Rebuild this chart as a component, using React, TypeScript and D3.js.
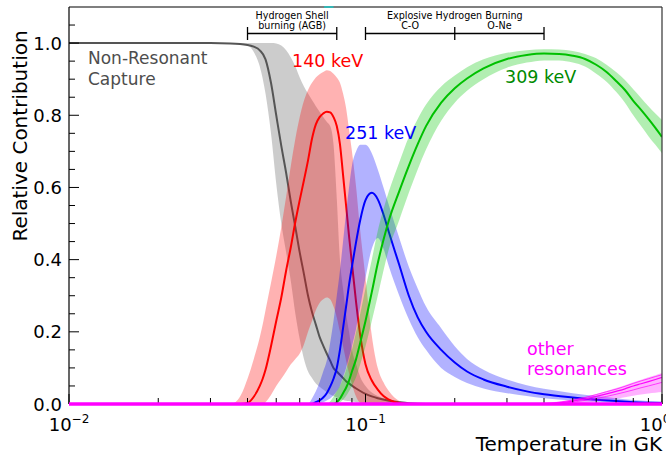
import React from 'react';
import * as d3 from 'd3';

// ---------- data (temperature in GK, relative contribution) ----------
const grayT = [0.01, 0.03, 0.035, 0.04, 0.042, 0.044, 0.046, 0.048, 0.05, 0.052, 0.054, 0.056, 0.058, 0.06, 0.062, 0.064, 0.066, 0.068, 0.07, 0.072, 0.074, 0.076, 0.078, 0.08, 0.082, 0.084, 0.086, 0.088, 0.09, 0.093, 0.096, 0.1, 0.105, 0.11, 0.12, 0.13, 0.14, 0.16, 0.2];
const grayLine = [1, 1, 0.999, 0.995, 0.99, 0.98, 0.955, 0.89, 0.8, 0.715, 0.64, 0.56, 0.49, 0.42, 0.36, 0.3, 0.255, 0.22, 0.186, 0.162, 0.14, 0.12, 0.1, 0.09, 0.081, 0.072, 0.063, 0.057, 0.051, 0.043, 0.036, 0.028, 0.021, 0.016, 0.009, 0.005, 0.002, 0, 0];
const grayHi = [1, 1, 1, 1, 1, 1, 1, 1, 0.999, 0.993, 0.98, 0.96, 0.935, 0.905, 0.88, 0.86, 0.842, 0.825, 0.81, 0.795, 0.782, 0.77, 0.72, 0.57, 0.4, 0.32, 0.25, 0.2, 0.15, 0.11, 0.075, 0.05, 0.032, 0.022, 0.011, 0.005, 0.002, 0, 0];
const grayLo = [1, 1, 1, 0.993, 0.975, 0.935, 0.86, 0.75, 0.61, 0.5, 0.42, 0.34, 0.25, 0.18, 0.125, 0.09, 0.072, 0.057, 0.048, 0.04, 0.033, 0.026, 0.022, 0.018, 0.014, 0.011, 0.009, 0.008, 0.007, 0.005, 0.004, 0.003, 0.001, 0, 0, 0, 0, 0, 0];

const redT = [0.01, 0.034, 0.036, 0.038, 0.04, 0.042, 0.044, 0.045, 0.046, 0.048, 0.05, 0.052, 0.054, 0.056, 0.058, 0.06, 0.062, 0.064, 0.066, 0.068, 0.07, 0.072, 0.074, 0.076, 0.078, 0.08, 0.082, 0.084, 0.086, 0.088, 0.09, 0.093, 0.096, 0.1, 0.105, 0.11, 0.115, 0.12, 0.13, 0.14, 0.16, 0.2];
const redLine = [0, 0, 0, 0, 0.003, 0.02, 0.05, 0.07, 0.095, 0.16, 0.23, 0.295, 0.37, 0.435, 0.505, 0.565, 0.62, 0.675, 0.735, 0.775, 0.795, 0.805, 0.81, 0.808, 0.795, 0.77, 0.72, 0.635, 0.55, 0.465, 0.39, 0.28, 0.19, 0.11, 0.065, 0.04, 0.022, 0.012, 0.002, 0, 0, 0];
const redHi = [0, 0, 0.003, 0.025, 0.07, 0.125, 0.185, 0.22, 0.26, 0.335, 0.41, 0.49, 0.575, 0.66, 0.735, 0.795, 0.84, 0.87, 0.89, 0.905, 0.914, 0.92, 0.925, 0.923, 0.915, 0.905, 0.89, 0.86, 0.82, 0.76, 0.7, 0.6, 0.48, 0.35, 0.19, 0.1, 0.06, 0.035, 0.008, 0, 0, 0];
const redLo = [0, 0, 0, 0, 0, 0, 0, 0, 0.005, 0.025, 0.05, 0.07, 0.09, 0.11, 0.125, 0.14, 0.165, 0.2, 0.23, 0.26, 0.28, 0.29, 0.295, 0.29, 0.27, 0.24, 0.2, 0.16, 0.12, 0.085, 0.055, 0.02, 0.003, 0, 0, 0, 0, 0, 0, 0, 0, 0];

const blueT = [0.01, 0.06, 0.064, 0.066, 0.068, 0.07, 0.072, 0.074, 0.076, 0.078, 0.08, 0.082, 0.084, 0.086, 0.088, 0.09, 0.093, 0.096, 0.1, 0.105, 0.11, 0.115, 0.12, 0.13, 0.14, 0.15, 0.16, 0.18, 0.2, 0.22, 0.25, 0.3, 0.35, 0.4, 0.5, 0.6, 0.7, 0.8, 1.0];
const blueLine = [0, 0, 0, 0, 0.005, 0.01, 0.018, 0.03, 0.048, 0.07, 0.1, 0.15, 0.21, 0.27, 0.33, 0.38, 0.45, 0.51, 0.565, 0.585, 0.567, 0.525, 0.475, 0.385, 0.3, 0.24, 0.2, 0.15, 0.115, 0.09, 0.068, 0.048, 0.035, 0.027, 0.018, 0.012, 0.008, 0.005, 0.003];
const blueHi = [0, 0, 0, 0.015, 0.035, 0.06, 0.09, 0.12, 0.17, 0.23, 0.3, 0.37, 0.45, 0.53, 0.6, 0.66, 0.7, 0.718, 0.718, 0.695, 0.65, 0.6, 0.55, 0.46, 0.38, 0.32, 0.27, 0.21, 0.16, 0.125, 0.095, 0.068, 0.052, 0.042, 0.03, 0.022, 0.016, 0.011, 0.007];
const blueLo = [0, 0, 0, 0, 0, 0.002, 0.005, 0.01, 0.015, 0.024, 0.035, 0.05, 0.075, 0.1, 0.13, 0.16, 0.21, 0.27, 0.35, 0.43, 0.46, 0.43, 0.38, 0.3, 0.235, 0.185, 0.15, 0.1, 0.075, 0.058, 0.043, 0.03, 0.022, 0.016, 0.01, 0.006, 0.004, 0.002, 0.001];

const greenT = [0.01, 0.074, 0.078, 0.08, 0.082, 0.084, 0.086, 0.088, 0.09, 0.093, 0.096, 0.1, 0.105, 0.11, 0.115, 0.12, 0.13, 0.14, 0.15, 0.16, 0.18, 0.2, 0.22, 0.25, 0.3, 0.35, 0.4, 0.45, 0.5, 0.55, 0.6, 0.65, 0.7, 0.75, 0.8, 0.85, 0.9, 0.95, 1.0];
const greenLine = [0, 0, 0, 0.005, 0.015, 0.03, 0.045, 0.065, 0.09, 0.125, 0.17, 0.23, 0.31, 0.39, 0.455, 0.51, 0.59, 0.66, 0.72, 0.77, 0.835, 0.875, 0.902, 0.93, 0.956, 0.967, 0.971, 0.97, 0.965, 0.956, 0.94, 0.92, 0.895, 0.87, 0.84, 0.815, 0.79, 0.765, 0.74];
const greenHi = [0, 0, 0.02, 0.035, 0.05, 0.07, 0.095, 0.12, 0.15, 0.2, 0.25, 0.32, 0.4, 0.48, 0.54, 0.59, 0.67, 0.74, 0.79, 0.83, 0.88, 0.91, 0.933, 0.955, 0.973, 0.98, 0.983, 0.982, 0.978, 0.97, 0.958, 0.94, 0.92, 0.898, 0.872, 0.848, 0.825, 0.805, 0.787];
const greenLo = [0, 0, 0, 0, 0.005, 0.012, 0.022, 0.035, 0.05, 0.075, 0.11, 0.16, 0.23, 0.3, 0.37, 0.43, 0.51, 0.585, 0.65, 0.705, 0.785, 0.835, 0.868, 0.9, 0.932, 0.946, 0.952, 0.952, 0.946, 0.935, 0.915, 0.893, 0.865, 0.835, 0.8, 0.77, 0.742, 0.718, 0.695];

const otherT = [0.01, 0.35, 0.4, 0.45, 0.5, 0.55, 0.6, 0.65, 0.7, 0.75, 0.8, 0.85, 0.9, 0.95, 1.0];
const otherLine = [0, 0, 0, 0.003, 0.008, 0.014, 0.021, 0.028, 0.035, 0.042, 0.05, 0.056, 0.062, 0.068, 0.074];
const otherLineUpper = [0, 0, 0.001, 0.005, 0.011, 0.018, 0.026, 0.034, 0.041, 0.049, 0.057, 0.064, 0.07, 0.076, 0.081];
const otherLineLower = [0, 0, 0, 0.002, 0.005, 0.01, 0.015, 0.021, 0.027, 0.033, 0.039, 0.045, 0.05, 0.055, 0.06];
const otherHi = [0, 0, 0.003, 0.007, 0.013, 0.02, 0.028, 0.036, 0.044, 0.052, 0.06, 0.067, 0.074, 0.08, 0.086];
const otherLo = [0, 0, 0, 0, 0, 0.003, 0.007, 0.011, 0.015, 0.019, 0.023, 0.026, 0.029, 0.031, 0.033];
const otherZeroT = [0.01, 1.0];
const otherZero = [0, 0];

const cyanT = [0.0725, 0.078];
const cyanV = [1.1, 1.1];

const yMajor = [0, 0.2, 0.4, 0.6, 0.8, 1.0];
const yMajorLabels = ['0.0', '0.2', '0.4', '0.6', '0.8', '1.0'];
const yMinor = [0.05, 0.1, 0.15, 0.25, 0.3, 0.35, 0.45, 0.5, 0.55, 0.65, 0.7, 0.75, 0.85, 0.9, 0.95, 1.05];
const xMajor = [0.01, 0.1, 1.0];
const xMajorExp = ['−2', '−1', '0'];
const xMinor = [0.02, 0.03, 0.04, 0.05, 0.06, 0.07, 0.08, 0.09, 0.2, 0.3, 0.4, 0.5, 0.6, 0.7, 0.8, 0.9];

const bracketRanges = [[0.04, 0.08], [0.1, 0.2, 0.4]];

const FONT = 'DejaVu Sans, Verdana, sans-serif';

export default function App() {
  const L = 69, R = 662, T = 7, B = 404;
  const x = d3.scaleLog().domain([0.01, 1.0]).range([L, R]);
  const y = d3.scaleLinear().domain([0, 1.1]).range([B, T]);

  const line = (ts: number[], vs: number[]) =>
    d3.line<number>().x((_, i) => x(ts[i])).y((d) => y(d)).curve(d3.curveMonotoneX)(vs) || '';
  const band = (ts: number[], lo: number[], hi: number[]) =>
    d3.area<number>().x((_, i) => x(ts[i])).y0((_, i) => y(lo[i])).y1((d) => y(d)).curve(d3.curveMonotoneX)(hi) || '';

  const tickFont = 18;

  return (
    <svg width={666} height={457} style={{ position: 'absolute', left: 0, top: 0, background: '#fff' }} fontFamily={FONT}>
      <defs>
        <clipPath id="plot">
          <rect x={L} y={T} width={R - L} height={B - T} />
        </clipPath>
      </defs>
      <rect x={0} y={0} width={666} height={457} fill="#fff" />
      <g clipPath="url(#plot)">
        <path d={band(grayT, grayLo, grayHi)} fill="#808080" fillOpacity={0.4} />
        <path d={line(grayT, grayLine)} fill="none" stroke="#555555" strokeWidth={2} />
        <path d={band(redT, redLo, redHi)} fill="#ff0000" fillOpacity={0.3} />
        <path d={line(redT, redLine)} fill="none" stroke="#ff0000" strokeWidth={2} />
        <path d={band(blueT, blueLo, blueHi)} fill="#0000ff" fillOpacity={0.3} />
        <path d={line(blueT, blueLine)} fill="none" stroke="#0000ff" strokeWidth={2} />
        <path d={band(greenT, greenLo, greenHi)} fill="#00c800" fillOpacity={0.3} />
        <path d={line(greenT, greenLine)} fill="none" stroke="#00c000" strokeWidth={2} />
        <path d={band(otherT, otherLo, otherHi)} fill="#ff00ff" fillOpacity={0.3} />
        <path d={line(otherT, otherLine)} fill="none" stroke="#ff00ff" strokeWidth={1.2} />
        <path d={line(otherT, otherLineUpper)} fill="none" stroke="#ff00ff" strokeWidth={1} strokeOpacity={0.7} />
        <path d={line(otherT, otherLineLower)} fill="none" stroke="#ff00ff" strokeWidth={1} strokeOpacity={0.7} />
      </g>
      {/* spines */}
      <line x1={L} x2={L} y1={T} y2={B} stroke="#000" strokeWidth={1.2} />
      <line x1={L} x2={R} y1={T} y2={T} stroke="#000" strokeWidth={1.2} />
      <line x1={R} x2={R} y1={T} y2={B} stroke="#333" strokeWidth={1.2} />
      <line x1={L} x2={R} y1={B} y2={B} stroke="#000" strokeWidth={1.2} />
      <path d={line(cyanT, cyanV)} fill="none" stroke="#33b5b5" strokeWidth={2} />
      {/* y ticks */}
      {yMajor.map((v, i) => (
        <g key={'ym' + i}>
          <line x1={L} x2={L + 10} y1={y(v)} y2={y(v)} stroke="#000" strokeWidth={1} />
          <text x={62} y={y(v) + 6.5} textAnchor="end" fontSize={tickFont} fill="#000">{yMajorLabels[i]}</text>
        </g>
      ))}
      {yMinor.map((v, i) => (
        <line key={'yn' + i} x1={L} x2={L + 6} y1={y(v)} y2={y(v)} stroke="#000" strokeWidth={1} />
      ))}
      {/* x ticks */}
      {xMinor.map((v, i) => (
        <line key={'xn' + i} x1={x(v)} x2={x(v)} y1={B} y2={B - 6} stroke="#000" strokeWidth={1} />
      ))}
      {xMajor.map((v, i) => (
        <g key={'xm' + i}>
          <line x1={x(v)} x2={x(v)} y1={B} y2={B - 10} stroke="#000" strokeWidth={1} />
          <text x={Math.min(x(v), 655)} y={431} textAnchor="middle" fontSize={18} fill="#000">
            10<tspan fontSize={12} dy={-8}>{xMajorExp[i]}</tspan>
          </text>
        </g>
      ))}
      {/* magenta zero line on top of bottom spine */}
      <path d={line(otherZeroT, otherZero)} fill="none" stroke="#ff00ff" strokeWidth={3.5} />
      {/* axis labels */}
      <text x={662} y={451} textAnchor="end" fontSize={20} fill="#000">Temperature in GK</text>
      <text transform="translate(27,136) rotate(-90)" textAnchor="middle" fontSize={20} fill="#000">Relative Contribution</text>
      {/* annotations */}
      <text x={88} y={64} fontSize={17} fill="#4d4d4d">Non-Resonant</text>
      <text x={88} y={85} fontSize={17} fill="#4d4d4d">Capture</text>
      <text x={292} y={67} fontSize={17.5} fill="#ff0000">140 keV</text>
      <text x={345} y={139} fontSize={17.5} fill="#0000ff">251 keV</text>
      <text x={505} y={83} fontSize={17.5} fill="#008a00">309 keV</text>
      <text x={527} y={355} fontSize={17.5} fill="#ff00ff">other</text>
      <text x={527} y={375} fontSize={17.5} fill="#ff00ff">resonances</text>
      {/* top brackets */}
      {bracketRanges.map((r, i) => (
        <g key={'br' + i} stroke="#000" strokeWidth={1.3}>
          <line x1={x(r[0])} x2={x(r[r.length - 1])} y1={33.5} y2={33.5} />
          {r.map((t, j) => (
            <line key={j} x1={x(t)} x2={x(t)} y1={27} y2={40} />
          ))}
        </g>
      ))}
      <g fontSize={9.6} fill="#000" textAnchor="middle">
        <text x={x(Math.sqrt(0.04 * 0.08))} y={19}>Hydrogen Shell</text>
        <text x={x(Math.sqrt(0.04 * 0.08))} y={28.5}>burning (AGB)</text>
        <text x={x(0.2)} y={19}>Explosive Hydrogen Burning</text>
        <text x={x(Math.sqrt(0.1 * 0.2))} y={28.5}>C-O</text>
        <text x={x(Math.sqrt(0.2 * 0.4))} y={28.5}>O-Ne</text>
      </g>
    </svg>
  );
}
